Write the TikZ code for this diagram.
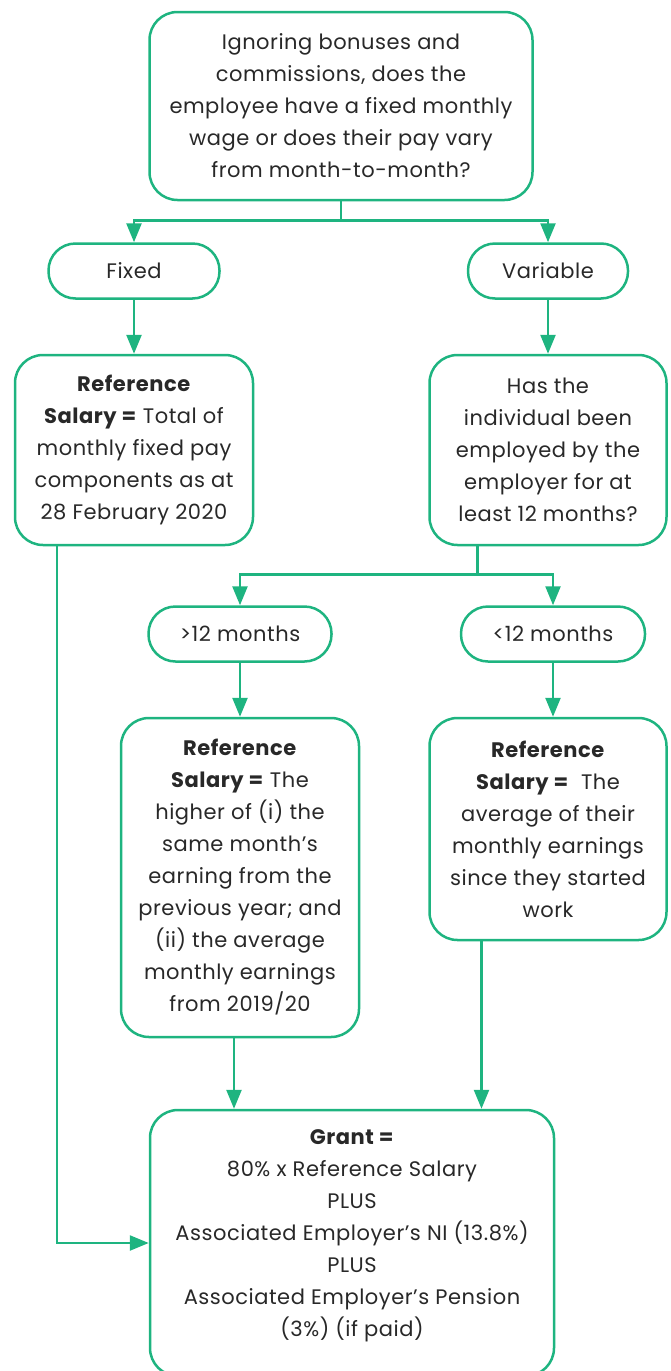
\documentclass[tikz,border=0pt]{standalone}
\usepackage{fontspec}
\setmainfont[LetterSpace=2.5]{Poppins}
\usetikzlibrary{arrows.meta,positioning}
\definecolor{grn}{RGB}{30,180,128}
\definecolor{txt}{RGB}{40,40,40}

\begin{document}
\begin{tikzpicture}[%
	on grid,
	every node/.style={text=txt,font=\fontsize{21pt}{32pt}\selectfont},
	box/.style={draw=grn,line width=2.5pt,rounded corners=28pt,align=center,inner sep=0pt},
	pill/.style={box,rounded corners=27pt,minimum height=55pt},
	link/.style={draw=grn,line width=2.5pt,-{Triangle[length=19pt,width=15pt,fill=grn]}}]

	\useasboundingbox (0,0) rectangle (670pt,-1371pt);

	\node[box,minimum width=383pt,minimum height=188pt]	(Q)	at (341pt,-106pt)	{Ignoring bonuses and\\commissions, does the\\employee have a fixed monthly\\wage or does their pay vary\\from month-to-month?};
	\node[pill,minimum width=171pt]	(F)		[below left=165pt and 207pt of Q]	{Fixed};
	\node[pill,minimum width=160pt]	(V)		[below right=165pt and 207pt of Q]	{Variable};
	\node[box,minimum width=238pt,minimum height=190pt]	(RF)	[below=179pt of F]	{\textbf{Reference}\\\textbf{Salary =} Total of\\monthly fixed pay\\components as at\\28 February 2020};
	\node[box,minimum width=237pt,minimum height=190pt]	(HT)	[below=179pt of V]	{Has the\\individual been\\employed by the\\employer for at\\least 12 months?};
	\node[pill,minimum width=183pt]	(GT)	[below left=184pt and 308pt of HT]	{>12 months};
	\node[pill,minimum width=184pt]	(LT)	[below right=184pt and 5pt of HT]	{<12 months};
	\node[box,minimum width=238pt,minimum height=319pt]	(RG)	[below=243.5pt of GT]	{\textbf{Reference}\\\textbf{Salary =} The\\higher of (i) the\\same month’s\\earning from the\\previous year; and\\(ii) the average\\monthly earnings\\from 2019/20};
	\node[box,minimum width=237pt,minimum height=222pt]	(RL)	[below=379pt of HT]	{\textbf{Reference}\\\textbf{Salary =}\ \ The\\average of their\\monthly earnings\\since they started\\work};
	\node[box,minimum width=404pt,minimum height=266pt,text depth=19pt]	(G)	[below right=365.5pt and 112pt of RG]	{\textbf{Grant =}\\80\% x Reference Salary\\PLUS\\Associated Employer’s NI (13.8\%)\\PLUS\\Associated Employer’s Pension\\(3\%) (if paid)};

	% first split
	\draw[link] (Q.south) -- ++(0,-19pt) -| (F.north);
	\draw[link] (Q.south) -- ++(0,-19pt) -| (V.north);
	\path[link] (F) edge (RF);
	\path[link] (V) edge (HT);

	% second split
	\draw[link] ([xshift=-70.5pt]HT.south) -- ++(0,-28pt) -| (GT.north);
	\draw[link] ([xshift=-70.5pt]HT.south) -- ++(0,-28pt) -| (LT.north);
	\path[link] (GT) edge (RG);
	\draw[link] (LT.south) -- (LT.south |- RL.north);

	% into the grant
	\draw[link] ([xshift=-77pt]RF.south) |- (G.west);
	\draw[link] ([xshift=-6pt]RG.south) -- ([xshift=-6pt]RG.south |- G.north);
	\draw[link] ([xshift=-66.5pt]RL.south) -- ([xshift=-66.5pt]RL.south |- G.north);

\end{tikzpicture}
\end{document}
